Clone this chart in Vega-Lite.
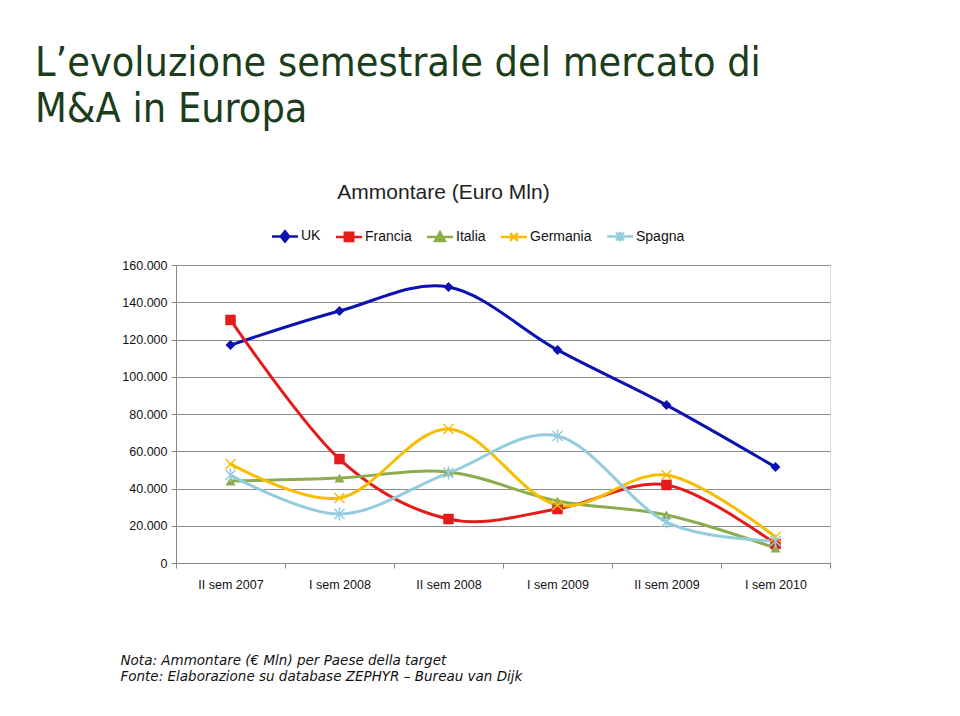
{
  "$schema": "https://vega.github.io/schema/vega-lite/v6.json",
  "autosize": "none",
  "width": 654,
  "height": 298,
  "padding": {"left": 176, "top": 265, "right": 130, "bottom": 153},
  "background": "white",
  "title": {
    "text": ["L’evoluzione semestrale del mercato di", "M&A in Europa"],
    "anchor": "start",
    "frame": "group",
    "dx": -141,
    "offset": 50,
    "font": "DejaVu Sans Condensed, Liberation Sans",
    "fontSize": 41,
    "fontWeight": "normal",
    "lineHeight": 46,
    "color": "#1b3d1b"
  },
  "data": {
    "values": [
      {"period": "II sem 2007", "country": "UK", "value": 117000},
      {"period": "I sem 2008", "country": "UK", "value": 135300},
      {"period": "II sem 2008", "country": "UK", "value": 148200},
      {"period": "I sem 2009", "country": "UK", "value": 114400},
      {"period": "II sem 2009", "country": "UK", "value": 84800},
      {"period": "I sem 2010", "country": "UK", "value": 51500},
      {"period": "II sem 2007", "country": "Francia", "value": 130500},
      {"period": "I sem 2008", "country": "Francia", "value": 55800},
      {"period": "II sem 2008", "country": "Francia", "value": 23600},
      {"period": "I sem 2009", "country": "Francia", "value": 29000},
      {"period": "II sem 2009", "country": "Francia", "value": 41900},
      {"period": "I sem 2010", "country": "Francia", "value": 10200},
      {"period": "II sem 2007", "country": "Italia", "value": 44000},
      {"period": "I sem 2008", "country": "Italia", "value": 45600},
      {"period": "II sem 2008", "country": "Italia", "value": 48900},
      {"period": "I sem 2009", "country": "Italia", "value": 33300},
      {"period": "II sem 2009", "country": "Italia", "value": 25800},
      {"period": "I sem 2010", "country": "Italia", "value": 8000},
      {"period": "II sem 2007", "country": "Germania", "value": 53200},
      {"period": "I sem 2008", "country": "Germania", "value": 34900},
      {"period": "II sem 2008", "country": "Germania", "value": 71900},
      {"period": "I sem 2009", "country": "Germania", "value": 31100},
      {"period": "II sem 2009", "country": "Germania", "value": 47200},
      {"period": "I sem 2010", "country": "Germania", "value": 14000},
      {"period": "II sem 2007", "country": "Spagna", "value": 47200},
      {"period": "I sem 2008", "country": "Spagna", "value": 26300},
      {"period": "II sem 2008", "country": "Spagna", "value": 48300},
      {"period": "I sem 2009", "country": "Spagna", "value": 68200},
      {"period": "II sem 2009", "country": "Spagna", "value": 22000},
      {"period": "I sem 2010", "country": "Spagna", "value": 11800}
    ]
  },
  "encoding": {
    "x": {
      "field": "period",
      "type": "nominal",
      "sort": ["II sem 2007", "I sem 2008", "II sem 2008", "I sem 2009", "II sem 2009", "I sem 2010"],
      "scale": {"type": "band", "paddingInner": 0, "paddingOuter": 0},
      "axis": {
        "title": ["Nota: Ammontare (€ Mln) per Paese della target", "Fonte: Elaborazione su database ZEPHYR – Bureau van Dijk"],
        "titleFont": "DejaVu Sans",
        "titleFontSize": 13.5,
        "titleFontStyle": "italic",
        "titleFontWeight": "normal",
        "titleColor": "#111",
        "titleLineHeight": 16,
        "titleAlign": "left",
        "titleBaseline": "top",
        "titleX": -56,
        "titleY": 90,
        "labelAngle": 0,
        "labelFont": "Liberation Sans",
        "labelFontSize": 12.5,
        "labelColor": "#111",
        "labelPadding": 10,
        "tickBand": "extent",
        "tickSize": 5,
        "tickColor": "#888",
        "domainColor": "#888",
        "grid": false
      }
    },
    "y": {
      "field": "value",
      "type": "quantitative",
      "scale": {"domain": [0, 160000], "nice": false},
      "axis": {
        "values": [0, 20000, 40000, 60000, 80000, 100000, 120000, 140000, 160000],
        "labelExpr": "replace(format(datum.value, ','), ',', '.')",
        "labelFont": "Liberation Sans",
        "labelFontSize": 12.5,
        "labelColor": "#111",
        "labelPadding": 4,
        "tickSize": 5,
        "tickColor": "#888",
        "domainColor": "#888",
        "gridColor": "#8c8c8c",
        "gridWidth": 1,
        "title": "Ammontare (Euro Mln)",
        "titleAngle": 0,
        "titleX": 267,
        "titleY": -73,
        "titleAlign": "center",
        "titleBaseline": "middle",
        "titleFont": "Liberation Sans",
        "titleFontSize": 21,
        "titleFontWeight": "normal",
        "titleColor": "#222"
      }
    }
  },
  "layer": [
    {
      "mark": {"type": "line", "interpolate": "cardinal", "strokeWidth": 3},
      "encoding": {
        "color": {
          "field": "country",
          "type": "nominal",
          "scale": {
            "domain": ["UK", "Francia", "Italia", "Germania", "Spagna"],
            "range": ["#0b12b0", "#e31b1b", "#8cac4e", "#f7bd00", "#93cddd"]
          },
          "legend": {
            "title": null,
            "orient": "none",
            "legendX": 102,
            "legendY": -36,
            "direction": "horizontal",
            "labelFont": "Liberation Sans",
            "labelFontSize": 14,
            "labelColor": "#111",
            "symbolSize": 42,
            "labelOffset": 9,
            "columnPadding": 10,
            "symbolStrokeWidth": 2.5,
            "encode": {
              "symbols": {
                "update": {
                  "shape": {"signal": "datum.value === 'UK' ? 'M-4,0L4,0M0,-1.6L1.3,0L0,1.6L-1.3,0Z' : datum.value === 'Francia' ? 'M-4,0L4,0M-1.3,-1.3L1.3,-1.3L1.3,1.3L-1.3,1.3Z' : datum.value === 'Italia' ? 'M-4,0L4,0M0,-1.5L1.5,1.2L-1.5,1.2Z' : datum.value === 'Germania' ? 'M-4,0L4,0M-1.2,-1.2L1.2,1.2M-1.2,1.2L1.2,-1.2' : 'M-4,0L4,0M-1.2,-1.2L1.2,1.2M-1.2,1.2L1.2,-1.2M0,-1.5L0,1.5'"},
                  "fill": {"scale": "color", "field": "value"},
                  "stroke": {"scale": "color", "field": "value"},
                  "strokeWidth": {"value": 2.5},
                  "opacity": {"value": 1}
                }
              }
            }
          }
        }
      }
    },
    {
      "transform": [{"filter": {"field": "country", "equal": "UK"}}],
      "mark": {"type": "point", "shape": "diamond", "filled": true, "color": "#0b12b0", "size": 100, "opacity": 1}
    },
    {
      "transform": [{"filter": {"field": "country", "equal": "Francia"}}],
      "mark": {"type": "point", "shape": "square", "filled": true, "color": "#e31b1b", "size": 110, "opacity": 1}
    },
    {
      "transform": [{"filter": {"field": "country", "equal": "Italia"}}],
      "mark": {"type": "point", "shape": "triangle-up", "filled": true, "color": "#8cac4e", "size": 100, "opacity": 1}
    },
    {
      "transform": [{"filter": {"field": "country", "equal": "Germania"}}],
      "mark": {"type": "point", "shape": "M-1,-1L1,1M-1,1L1,-1", "filled": false, "color": "#f7bd00", "strokeWidth": 1.5, "size": 100, "opacity": 1}
    },
    {
      "transform": [{"filter": {"field": "country", "equal": "Spagna"}}],
      "mark": {"type": "point", "shape": "M-1,-1L1,1M-1,1L1,-1M0,-1.3L0,1.3", "filled": false, "color": "#93cddd", "strokeWidth": 1.5, "size": 100, "opacity": 1}
    }
  ]
}
